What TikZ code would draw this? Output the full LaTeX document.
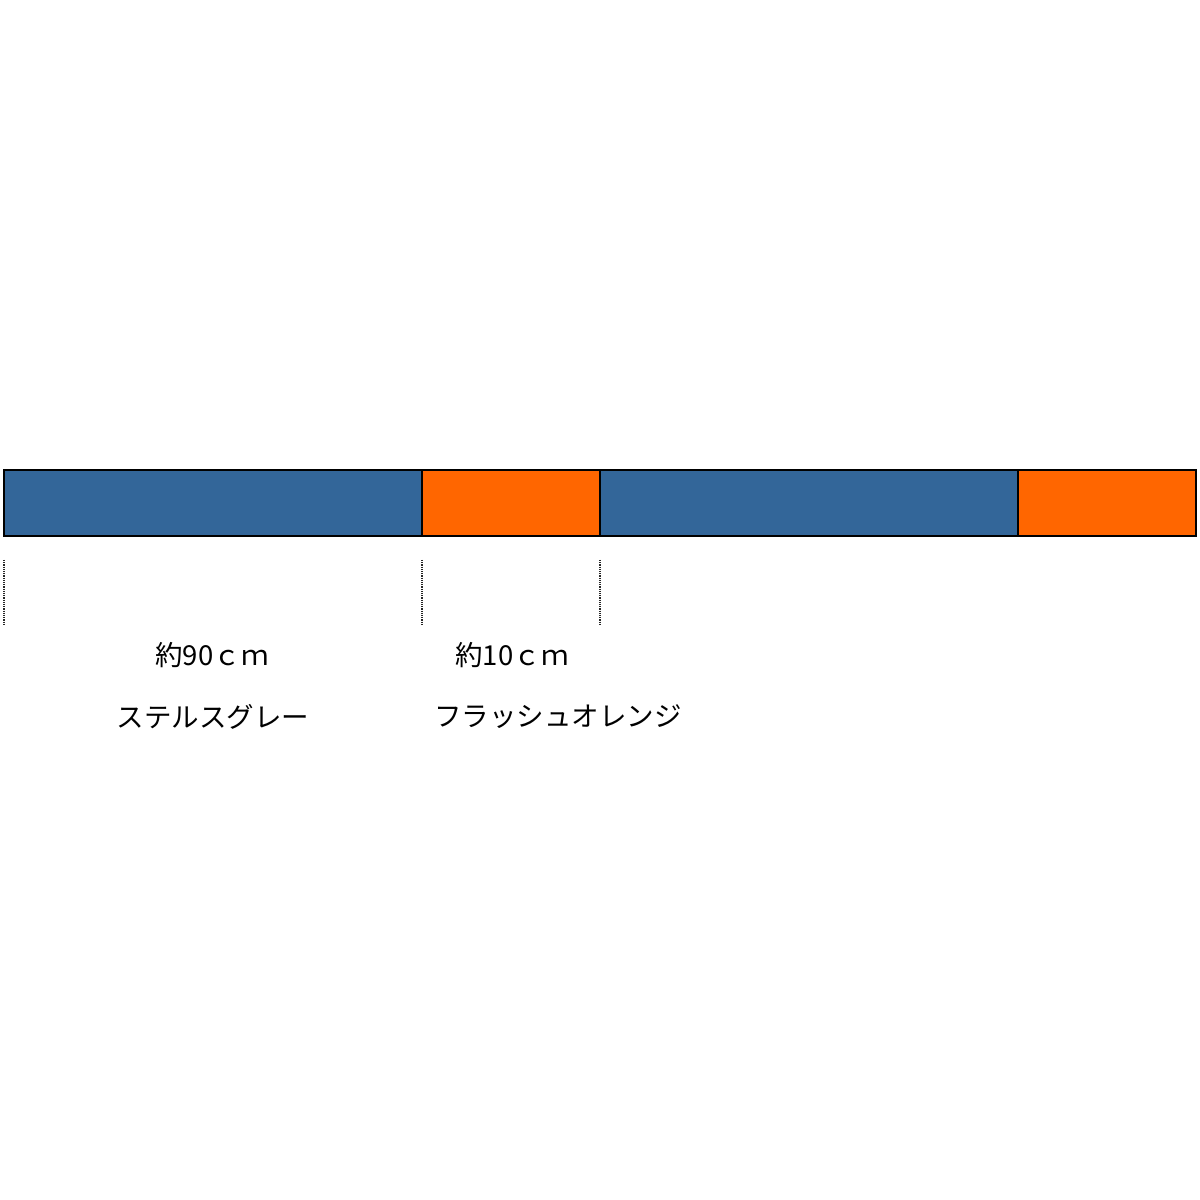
\documentclass[tikz,border=0pt]{standalone}
\usepackage{fontspec}
\setmainfont{Noto Sans CJK JP}
\begin{document}
\begin{tikzpicture}[x=1pt,y=1pt,
  seg/.style={draw=black,line width=2.5pt},
  guide/.style={draw=black!85,line width=2pt,dash pattern=on 1.2pt off 1pt},
  lbl/.style={font=\fontsize{27.5}{32}\selectfont,inner sep=0pt,anchor=center}]
\useasboundingbox (0,0) rectangle (1200,1200);
\fill[white] (0,0) rectangle (1200,1200);
\path[seg,fill={rgb,255:red,51;green,102;blue,153}] (4,664) rectangle (422,730);
\path[seg,fill={rgb,255:red,255;green,102;blue,0}] (422,664) rectangle (600,730);
\path[seg,fill={rgb,255:red,51;green,102;blue,153}] (600,664) rectangle (1018,730);
\path[seg,fill={rgb,255:red,255;green,102;blue,0}] (1018,664) rectangle (1196,730);
\coordinate (a1) at (4,640); \coordinate (a2) at (4,574);
\coordinate (b1) at (422,640); \coordinate (b2) at (422,574);
\coordinate (c1) at (600,640); \coordinate (c2) at (600,574);
\draw[guide] (a1) -- (a2);
\draw[guide] (b1) -- (b2);
\draw[guide] (c1) -- (c2);
\node[lbl] (l1) at (212,545) {約90ｃｍ};
\node[lbl] (l2) at (213,483) {ステルスグレー};
\node[lbl] (l3) at (512,545) {約10ｃｍ};
\node[lbl] (l4) at (558,483) {フラッシュオレンジ};
\end{tikzpicture}
\end{document}
